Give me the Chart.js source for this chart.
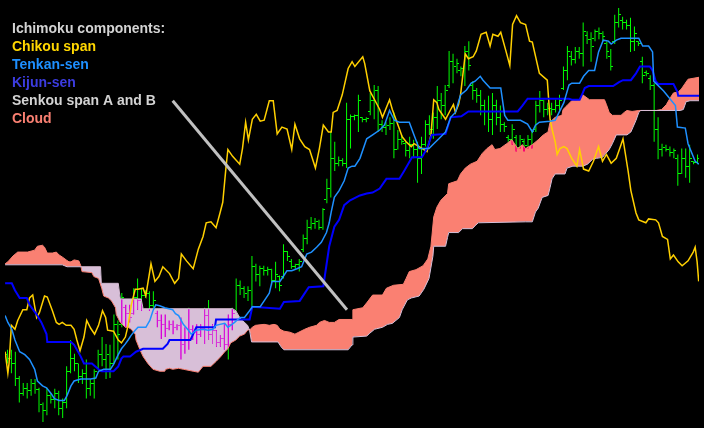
<!DOCTYPE html>
<html>
<head>
<meta charset="utf-8">
<title>Ichimoku</title>
<script src="https://cdn.jsdelivr.net/npm/chart.js@4.4.1/dist/chart.umd.min.js"></script>
<style>
  html, body { margin: 0; padding: 0; background: #000; }
  canvas { display: block; }
</style>
</head>
<body>
<canvas id="ichimokuChart" width="704" height="428"></canvas>
<script>
// price bars, one per period (price in points)
const highs = [75,75,73,48,41,41,45,45,36,21, 36,30,35,33,25,58,85,71,61,55, 65,45,55,75,88,81,80,111,105,133,
  121,121,138,148,138,136,135,135,115,111, 111,105,105,101,108,98,118,100,101,101, 118,126,101,95,90,101,111,118,148,146,
  140,140,171,163,161,161,160,158,165,151, 183,176,168,163,168,193,208,211,210,208, 220,250,298,288,273,271,328,316,316,336,
  313,313,338,346,345,310,308,313,318,300, 295,288,293,290,288,293,310,315,318,345, 338,346,381,378,373,365,386,391,350,343,
  341,331,335,338,331,325,308,295,306,295, 295,291,295,301,330,340,331,328,328,331, 336,365,386,381,385,385,410,401,400,403,
  405,401,391,383,418,425,416,413,415,406, 391,375,361,356,348,313,286,285,283,281, 275,281,281,285,268,275];
const lows = [61,51,38,21,28,25,28,30,11,1, 8,20,15,8,5,15,51,53,41,40, 25,28,25,55,58,45,46,61,65,98,
  98,103,111,116,115,128,115,118,98,86, 88,95,91,95,65,71,75,85,81,88, 81,85,81,78,78,75,65,95,115,131,
  128,125,118,145,140,151,151,141,138,135, 148,166,158,158,155,175,183,198,199,198, 198,225,231,258,263,263,261,281,310,298,
  308,308,315,311,298,298,295,300,271,280, 285,273,271,271,246,255,283,295,291,301, 311,315,343,348,358,355,345,361,331,328,
  315,305,298,295,305,298,298,288,285,278, 281,278,281,281,298,318,313,315,315,318, 320,341,351,366,368,373,365,388,370,391,
  393,391,373,361,388,405,403,403,380,381, 386,348,355,341,288,270,273,278,273,271, 243,255,251,246,265,265];
const opens = [70,66,60,45,30,35,33,40,34,18, 12,28,24,30,14,20,52,66,60,47, 50,35,40,56,70,64,70,60,100,100,
  118,112,112,128,125,130,132,120,112,104, 100,96,100,97,99,80,85,95,92,90, 96,110,90,94,82,86,80,100,115,140,
  137,132,135,160,152,158,156,157,145,150, 150,175,165,160,162,177,188,200,204,206, 200,228,240,270,265,268,265,310,313,314,
  312,310,318,330,340,305,302,304,306,280, 290,286,278,285,280,270,285,305,300,312, 330,325,345,370,365,360,362,380,345,340,
  335,325,318,310,325,312,305,292,290,292, 282,288,284,290,300,325,330,320,322,320, 325,342,360,375,372,380,378,396,392,393,
  400,398,388,375,390,410,412,410,407,390, 390,370,358,352,345,300,280,282,280,276, 270,255,270,262,267,266];
const closes = [66,60,45,30,35,33,40,34,18,12, 28,24,30,14,20,52,66,60,47,50, 35,40,52,70,64,70,60,100,90,128,
  112,108,128,125,130,132,120,125,104,100, 96,100,97,99,80,85,95,92,90,96, 110,90,94,82,86,80,100,112,140,137,
  132,135,160,152,158,156,157,145,152,140, 175,170,160,162,165,188,200,204,206,200, 218,240,270,265,268,265,310,313,314,330,
  310,311,330,340,305,302,304,306,280,290, 288,278,285,280,270,285,305,300,312,330, 325,340,370,365,368,362,380,366,340,335,
  325,318,310,325,312,305,303,290,300,282, 290,284,290,298,325,330,320,322,320,325, 330,360,380,372,380,378,400,392,385,400,
  398,395,380,365,410,418,410,407,390,398, 388,355,357,345,300,280,282,280,276,278, 255,270,262,270,266,270];

// indicator lines: [period, price]
const chikou = [[-0.6,73],[0.1,51],[0.4,61],[1.0,100],[1.9,96],[2.6,105],[3.9,116],[4.9,116],[5.6,128],[6.4,131],[7.4,108],[8.1,113],[9.4,130],[10.1,129],[11.4,115],[12.4,103],[13.1,101],[13.9,103],[14.9,100],[16.1,100],[16.9,96],[17.6,85],[18.4,74],[19.4,88],[20.1,105],[21.1,97],[22.1,91],[23.1,100],[24.1,115],[24.9,108],[25.4,95],[26.9,94],[28.1,85],[28.9,82],[29.9,88],[30.6,100],[31.4,121],[32.4,137],[33.1,137],[34.4,138],[35.1,130],[35.4,138],[36.4,163],[37.4,145],[38.4,150],[39.4,160],[41.1,153],[42.4,143],[43.4,148],[44.1,173],[45.4,166],[47.1,158],[48.4,178],[49.6,191],[50.4,205],[51.6,206],[52.9,200],[53.9,215],[54.6,226],[55.4,261],[55.9,280],[57.1,273],[58.9,265],[59.6,281],[60.4,308],[61.1,290],[62.1,311],[63.1,316],[64.1,309],[65.1,310],[66.4,330],[67.4,330],[68.4,296],[69.6,303],[70.9,301],[72.1,280],[72.9,306],[74.1,291],[75.4,283],[76.6,280],[78.1,261],[79.1,281],[80.1,305],[81.4,298],[82.1,298],[82.6,318],[83.6,320],[84.9,336],[86.4,363],[87.4,370],[88.1,365],[90.1,375],[90.6,368],[91.9,340],[93.1,331],[94.4,321],[95.1,313],[96.9,331],[97.6,321],[99.4,301],[100.1,293],[101.1,288],[102.4,283],[103.1,286],[104.4,283],[105.6,280],[106.4,278],[107.4,295],[108.1,331],[108.9,328],[109.4,321],[111.1,311],[112.4,321],[113.1,326],[113.6,318],[114.4,326],[114.9,336],[116.1,378],[116.9,373],[118.1,375],[118.9,381],[120.1,398],[121.4,400],[122.4,386],[123.1,398],[124.4,396],[125.1,400],[126.4,381],[127.4,366],[128.1,408],[129.1,417],[130.1,410],[131.4,408],[132.4,391],[133.1,390],[134.9,358],[136.9,351],[137.6,311],[138.1,301],[138.9,288],[139.4,275],[140.1,281],[141.1,283],[141.9,281],[143.1,271],[144.4,263],[145.1,280],[146.1,260],[147.4,258],[148.6,268],[149.9,283],[150.9,268],[151.9,275],[153.1,266],[154.4,271],[155.6,285],[156.1,291],[157.4,258],[158.1,238],[159.4,215],[160.1,208],[161.9,205],[162.6,209],[164.4,208],[165.1,205],[166.1,191],[167.4,188],[168.1,168],[168.9,172],[170.1,165],[171.1,161],[172.6,166],[173.9,175],[174.4,180],[174.9,165],[175.3,145]];
const tenkan = [[-0.6,110],[0.1,103],[1.1,96],[1.9,85],[3.1,73],[4.4,70],[5.6,65],[6.9,55],[7.6,43],[8.9,38],[9.9,36],[11.1,30],[11.9,25],[13.1,23],[14.4,23],[15.1,28],[16.1,38],[16.9,43],[18.6,45],[21.1,45],[22.4,46],[23.1,53],[24.4,55],[26.1,55],[26.9,60],[28.1,70],[28.9,76],[29.9,81],[30.6,85],[31.4,90],[32.4,95],[33.1,98],[35.1,98],[36.1,105],[36.9,115],[37.6,121],[38.6,120],[39.9,118],[41.9,116],[42.6,112],[43.4,110],[44.6,101],[45.9,95],[46.6,91],[47.9,95],[49.6,96],[50.9,95],[52.1,96],[52.9,100],[53.9,101],[55.1,102],[55.9,98],[56.6,100],[57.6,103],[58.4,106],[59.1,108],[60.1,108],[61.4,115],[62.1,119],[64.1,119],[65.1,125],[66.4,133],[67.1,145],[69.1,145],[70.1,151],[70.9,156],[72.1,156],[73.4,158],[74.6,160],[75.9,173],[77.1,175],[78.4,180],[79.6,185],[80.9,195],[81.6,205],[82.1,216],[82.9,231],[84.1,238],[85.4,248],[86.4,261],[87.4,263],[88.1,263],[89.4,271],[91.1,291],[92.6,295],[94.4,300],[95.6,305],[96.9,320],[98.1,310],[99.4,308],[101.9,308],[103.1,295],[104.4,281],[106.9,281],[108.1,286],[109.4,291],[111.1,298],[112.4,313],[113.6,318],[114.9,336],[116.4,341],[117.6,348],[118.6,350],[119.9,355],[120.6,351],[122.4,343],[125.1,343],[126.1,315],[126.9,310],[130.1,310],[131.9,306],[133.1,298],[133.9,305],[134.9,308],[137.6,309],[138.9,310],[141.1,328],[142.4,346],[143.1,348],[145.1,348],[146.1,355],[147.4,361],[148.9,361],[149.9,380],[151.1,392],[152.4,391],[153.1,388],[154.4,392],[155.6,394],[160.1,394],[161.1,386],[162.6,386],[163.6,380],[163.9,350],[164.4,348],[166.4,340],[169.4,325],[169.9,303],[171.9,302],[172.6,286],[174.4,268],[175.4,265]];
const kijun = [[-0.6,143],[1.1,143],[1.9,136],[3.1,128],[4.9,128],[5.6,121],[7.4,111],[8.6,103],[9.9,91],[10.1,83],[16.1,83],[16.9,80],[18.6,68],[19.4,61],[21.4,61],[23.1,55],[23.9,53],[26.9,53],[28.1,58],[28.9,66],[29.4,68],[31.1,68],[32.6,73],[34.4,76],[39.4,76],[40.6,81],[41.1,85],[46.4,85],[47.9,98],[52.6,98],[52.9,106],[61.4,106],[62.1,119],[69.1,117],[70.1,124],[74.1,125],[76.4,139],[80.1,140],[81.6,181],[82.9,201],[84.1,208],[85.4,223],[86.9,228],[89.4,233],[91.1,235],[92.6,236],[94.4,240],[96.1,250],[99.4,250],[100.6,258],[102.6,272],[105.1,272],[106.4,281],[107.6,295],[111.1,296],[112.4,313],[115.1,314],[116.9,319],[129.4,319],[130.6,325],[131.9,332],[142.4,332],[143.1,331],[145.1,331],[145.9,338],[146.4,343],[147.4,345],[153.6,345],[155.1,349],[156.1,351],[158.1,351],[159.4,358],[160.4,365],[162.9,365],[163.6,361],[164.4,350],[165.1,347],[168.9,347],[169.9,339],[170.1,335],[175.4,335]];
const spanA = [[-0.6,163],[0.1,165],[1.4,171],[2.6,175],[5.1,175],[6.9,177],[7.6,181],[8.9,182],[9.4,180],[10.1,174],[11.4,174],[12.4,175],[13.1,172],[13.9,170],[14.9,167],[15.6,165],[16.1,165],[16.9,167],[18.1,166],[18.6,161],[18.9,155],[21.4,154],[21.9,150],[23.1,148],[23.9,138],[24.4,130],[25.6,128],[26.4,125],[27.4,118],[27.6,111],[28.6,103],[29.9,98],[30.6,98],[31.4,96],[32.4,91],[32.6,85],[33.6,75],[34.4,68],[35.6,61],[36.9,55],[38.6,53],[39.9,53],[40.1,55],[41.1,56],[41.9,55],[43.4,56],[44.6,55],[47.1,53],[48.4,52],[49.6,58],[51.6,58],[52.9,63],[54.1,68],[55.1,73],[55.9,76],[56.6,82],[57.9,85],[58.9,89],[60.1,91],[60.9,95],[61.6,96],[62.1,98],[62.9,100],[65.1,101],[66.4,100],[67.6,101],[68.4,100],[69.1,96],[70.1,94],[71.6,93],[72.9,91],[73.9,93],[75.4,96],[76.6,98],[78.4,100],[79.1,103],[80.4,105],[81.6,103],[82.9,103],[84.1,106],[87.4,106],[87.6,116],[90.1,118],[91.1,123],[92.6,131],[95.1,131],[96.1,138],[97.9,141],[100.4,142],[101.1,148],[101.9,155],[103.6,157],[105.4,161],[106.6,168],[107.4,181],[108.1,211],[108.9,221],[109.9,228],[111.6,235],[111.9,245],[114.1,248],[114.9,255],[116.1,261],[117.4,265],[119.1,268],[120.4,276],[121.6,281],[122.9,285],[123.6,280],[124.9,281],[126.6,286],[127.9,290],[128.6,286],[129.4,281],[130.6,285],[131.4,281],[133.1,285],[134.6,290],[135.9,295],[137.1,298],[137.6,308],[138.9,313],[140.6,315],[140.9,321],[141.9,325],[143.1,330],[145.1,331],[145.9,336],[147.6,331],[151.4,331],[151.9,326],[152.6,318],[153.4,315],[155.6,315],[156.4,318],[157.1,320],[158.4,319],[160.1,320],[164.6,320],[165.9,321],[167.1,326],[168.1,333],[168.9,338],[170.1,339],[170.9,342],[171.9,348],[172.6,352],[175.4,354]];
const spanB = [[-0.6,162],[13.9,162],[15.1,160],[23.6,160],[23.8,143],[28.1,143],[28.6,127],[33.9,127],[34.4,117],[57.1,117],[57.9,115],[58.9,108],[59.6,105],[60.9,100],[61.4,95],[61.9,83],[68.6,83],[69.4,78],[70.1,75],[86.4,75],[87.4,80],[87.6,88],[91.1,89],[91.9,92],[93.1,96],[95.1,98],[96.4,101],[97.6,102],[99.4,108],[100.1,116],[101.4,126],[102.4,128],[104.4,130],[105.6,137],[106.9,148],[107.9,171],[108.1,181],[111.1,181],[111.6,190],[111.9,195],[114.4,195],[115.4,199],[117.9,199],[118.6,202],[119.4,205],[131.4,206],[133.1,206],[133.9,216],[134.6,220],[135.6,231],[137.1,233],[137.6,241],[138.1,250],[138.9,255],[141.4,255],[141.9,261],[143.4,263],[145.9,263],[147.1,265],[148.4,270],[149.4,271],[150.9,272],[152.6,280],[153.4,286],[154.4,295],[157.1,295],[158.1,298],[159.4,310],[160.1,318],[160.6,320],[170.6,320],[171.4,321],[172.1,329],[173.1,330],[175.4,330]];
// trend line drawn on the chart (pointer to the cloud)
const pointer = [[41.9,330],[86.1,116]];

const legendLines = [
  ['Ichimoku components:', '#d3d3d3'],
  ['Chikou span', '#ffd700'],
  ['Tenkan-sen', '#1e90ff'],
  ['Kijun-sen', '#3c3ce0'],
  ['Senkou span A and B', '#d3d3d3'],
  ['Cloud', '#fa8072']
];

const BAR_COLOR = '#00ff00';
const toXY = arr => arr.map(p => ({x: p[0], y: p[1]}));

const barData = highs.map((h, i) => ({x: i, y: [lows[i], h]}));
const openData = opens.map((v, i) => ({x: i, y: v}));
const closeData = closes.map((v, i) => ({x: i, y: v}));

// little horizontal ticks for open (left) and close (right)
function tickImage(color, left) {
  const c = document.createElement('canvas');
  c.width = 5;
  c.height = 2;
  const g = c.getContext('2d');
  g.fillStyle = color;
  g.fillRect(left ? 0 : 3, 0, 2, 1);
  return c;
}

// black background + cloud drawn in "difference" mode like the terminal does
const blendPlugin = {
  id: 'cloudBlend',
  beforeDraw(chart) {
    const ctx = chart.ctx;
    ctx.save();
    ctx.fillStyle = '#000';
    ctx.fillRect(0, 0, chart.width, chart.height);
    ctx.restore();
    ctx.imageSmoothingEnabled = false;
  },
  afterDatasetDraw(chart, args) {
    if (args.index === 1) chart.ctx.globalCompositeOperation = 'difference';
    if (args.index === 4) chart.ctx.globalCompositeOperation = 'source-over';
  }
};

const legendPlugin = {
  id: 'legendText',
  afterDraw(chart) {
    const ctx = chart.ctx;
    ctx.save();
    ctx.globalCompositeOperation = 'source-over';
    ctx.font = 'bold 14px "Liberation Sans", Arial, sans-serif';
    ctx.textBaseline = 'alphabetic';
    legendLines.forEach((l, i) => {
      ctx.fillStyle = l[1];
      ctx.fillText(l[0], 12, 33 + i * 18);
    });
    ctx.restore();
  }
};

const line = (data, color, width, order) => ({
  type: 'line', data: toXY(data), borderColor: color, borderWidth: width,
  pointRadius: 0, fill: false, tension: 0, order: order
});

new Chart(document.getElementById('ichimokuChart'), {
  type: 'line',
  data: {
    datasets: [
      { type: 'bar', data: barData, backgroundColor: BAR_COLOR, borderWidth: 0,
        barThickness: 1, inflateAmount: 0, order: 10 },
      { type: 'line', data: openData, showLine: false, pointRadius: 1,
        pointStyle: tickImage(BAR_COLOR, true), order: 9 },
      { type: 'line', data: closeData, showLine: false, pointRadius: 1,
        pointStyle: tickImage(BAR_COLOR, false), order: 9 },
      line(spanB, '#d8bfd8', 1, 5),
      { type: 'line', data: toXY(spanA), borderColor: 'rgba(0,0,0,0)', borderWidth: 1, pointRadius: 0,
        fill: { target: 3, above: '#fa8072', below: '#d8bfd8' }, order: 6 },
      line(spanA, '#fa8072', 1, 5),
      line(chikou, '#ffd000', 1.5, 3),
      line(kijun, '#0000ff', 2, 2),
      line(tenkan, '#1e90ff', 1.5, 1),
      line(pointer, '#c0c0c0', 3, 0)
    ]
  },
  options: {
    responsive: false,
    devicePixelRatio: 1,
    animation: false,
    events: [],
    layout: { padding: 0 },
    plugins: {
      legend: { display: false },
      tooltip: { enabled: false }
    },
    scales: {
      x: { type: 'linear', min: -0.625, max: 175.375, offset: false, display: false },
      y: { type: 'linear', min: 0, max: 428, display: false }
    }
  },
  plugins: [blendPlugin, legendPlugin]
});
</script>
</body>
</html>
